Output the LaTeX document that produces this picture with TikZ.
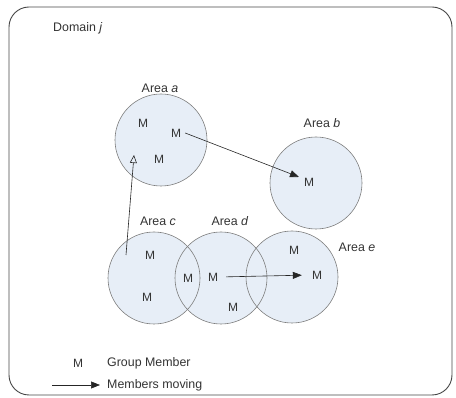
\documentclass[tikz,border=0pt]{standalone}
\usepackage{fontspec}
\setmainfont{Liberation Sans}
\usetikzlibrary{positioning, arrows.meta}
\definecolor{AreaFill}{RGB}{231,238,247}
\definecolor{AreaLine}{RGB}{125,125,125}
\definecolor{FrameLine}{RGB}{70,70,70}
\tikzset{
  area/.style={circle, fill=AreaFill, minimum size=92pt, inner sep=0pt},
  mem/.style={font=\fontsize{12}{14}\selectfont, inner sep=1pt, text=black!80},
  arealabel/.style={font=\fontsize{12.4}{14}\selectfont, inner sep=1pt, text=black!80},
  movearrow/.style={-{Triangle[length=9pt,width=7pt]}, semithick, black!85},
  backarrow/.style={-{Triangle[open,length=8pt,width=7pt]}, semithick, black!85},
}
\begin{document}
\begin{tikzpicture}[x=1pt, y=-1pt]
  \useasboundingbox (0,0) rectangle (456,398);
  \draw[FrameLine, line width=0.9pt, rounded corners=20pt] (9,7) rectangle (452,395);
  \node[arealabel, anchor=west] (dom) at (52,28) {Domain \textit{j}};
  % the five areas
  \foreach \n/\x/\y in {A/161/140, B/316/183, C/154/278, D/221/278, E/292/277}
    \node[area] (area\n) at (\x,\y) {};
  \foreach \n in {A,B,C,D,E}
    \draw[AreaLine, semithick] (area\n.center) circle[radius=46pt];
  \foreach \n/\t/\x/\y in {A/a/160/88, B/b/322/123, C/c/158/221, D/d/230/221, E/e/357/247}
    \node[arealabel] (lab\n) at (\x,\y) {Area \textit{\t}};
  % group members
  \foreach \n/\x/\y in {A1/143/123, A2/176/133, A3/159/159, B1/309/182,
      C1/150/255, C2/147/297, D1/188/278, D2/213/277, D3/233/307,
      E1/294/250, E2/317/275}
    \node[mem] (m\n) at (\x,\y) {M};
  % members moving
  \coordinate (startC) at (126,255);
  \coordinate (tipA) at (134,155);
  \draw[movearrow] ([xshift=3pt]mA2.east) -- (299,177) coordinate (tipB);
  \draw[backarrow] (startC) -- (tipA);
  \draw[movearrow, shorten <=7pt, shorten >=9pt] (mD2.east) -- (mE2.west);
  % legend
  \node[mem] (legM) at (78,363) {M};
  \node[arealabel, anchor=west] (legMtxt) at (106,363) {Group Member};
  \node[arealabel, anchor=west] (legAtxt) at (106,385) {Members moving};
  \coordinate (legS) at (52,385);
  \draw[movearrow] (legS) -- ([xshift=-6pt]legAtxt.west);
\end{tikzpicture}
\end{document}
